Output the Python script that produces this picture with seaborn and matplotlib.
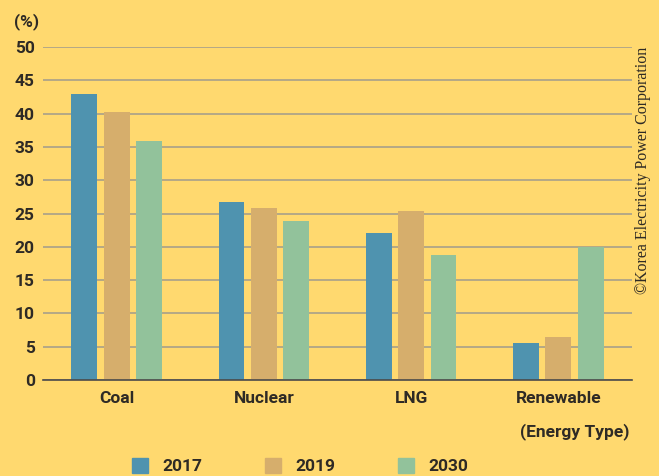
import matplotlib
matplotlib.use('Agg')
import matplotlib.pyplot as plt
import pandas as pd
import seaborn as sns

energy = ['Coal', 'Nuclear', 'LNG', 'Renewable']
years = ['2017', '2019', '2030']
share_2017 = [43.0, 26.8, 22.1, 5.6]
share_2019 = [40.3, 25.9, 25.4, 6.4]
share_2030 = [35.9, 23.8, 18.7, 20.0]
colors = ['#4F93AF', '#D6AE6C', '#92C29B']

datos = pd.DataFrame({
    'Energy': energy * 3,
    'Year': [y for y in years for _ in energy],
    'Share': share_2017 + share_2019 + share_2030,
})

bg = '#FFD96F'
txt = '#2E2A25'
fs = 12.5
wt = 'semibold'
sns.set_theme(style='white')
plt.rcParams['font.family'] = ['Roboto', 'DejaVu Sans']

fig = plt.figure(figsize=(6.59, 4.76), dpi=100, facecolor=bg)
ax = fig.add_axes([43 / 659, 1 - 380 / 476, 589 / 659, 333 / 476])
ax.set_facecolor(bg)

sns.barplot(data=datos, x='Energy', y='Share', hue='Year', palette=colors,
            width=0.66, gap=0.2, ax=ax, legend=False, saturation=1, linewidth=0)

ax.set_ylim(0, 50)
ax.set_xlim(-0.5, 3.5)
ax.set_yticks(range(0, 51, 5))
ax.yaxis.grid(True, color='#A8A08A', linewidth=1.2)
ax.set_axisbelow(True)
for s in ['top', 'right', 'left']:
    ax.spines[s].set_visible(False)
ax.spines['bottom'].set_color('#4A4A4A')
ax.spines['bottom'].set_linewidth(1.2)
ax.tick_params(axis='both', length=0, labelsize=fs, labelcolor=txt)
ax.tick_params(axis='y', pad=6)
ax.tick_params(axis='x', pad=8)
for lab in ax.get_xticklabels() + ax.get_yticklabels():
    lab.set_fontweight(wt)
ax.set_xlabel('')
ax.set_ylabel('')

fig.text(14 / 659, 1 - 22 / 476, '(%)', fontsize=fs, color=txt, fontweight=wt, va='center')
fig.text(630 / 659, 1 - 432 / 476, '(Energy Type)', fontsize=fs, color=txt,
         fontweight=wt, ha='right', va='center')
fig.text(643 / 659, 1 - 170 / 476, '\u00a9Korea Electricity Power Corporation',
         rotation=90, ha='center', va='center', fontsize=11.5, color=txt,
         family=['Liberation Serif', 'DejaVu Serif'])

handles = [plt.Rectangle((0, 0), 1, 1, color=c) for c in colors]
fig.legend(handles, years, loc='center', bbox_to_anchor=(300 / 659, 1 - 466 / 476), ncol=3,
           frameon=False, handlelength=0.95, handleheight=0.95,
           columnspacing=3.6, handletextpad=0.8, labelcolor=txt,
           prop={'weight': wt, 'size': fs})

fig.savefig('out.png', dpi=100, facecolor=bg)
